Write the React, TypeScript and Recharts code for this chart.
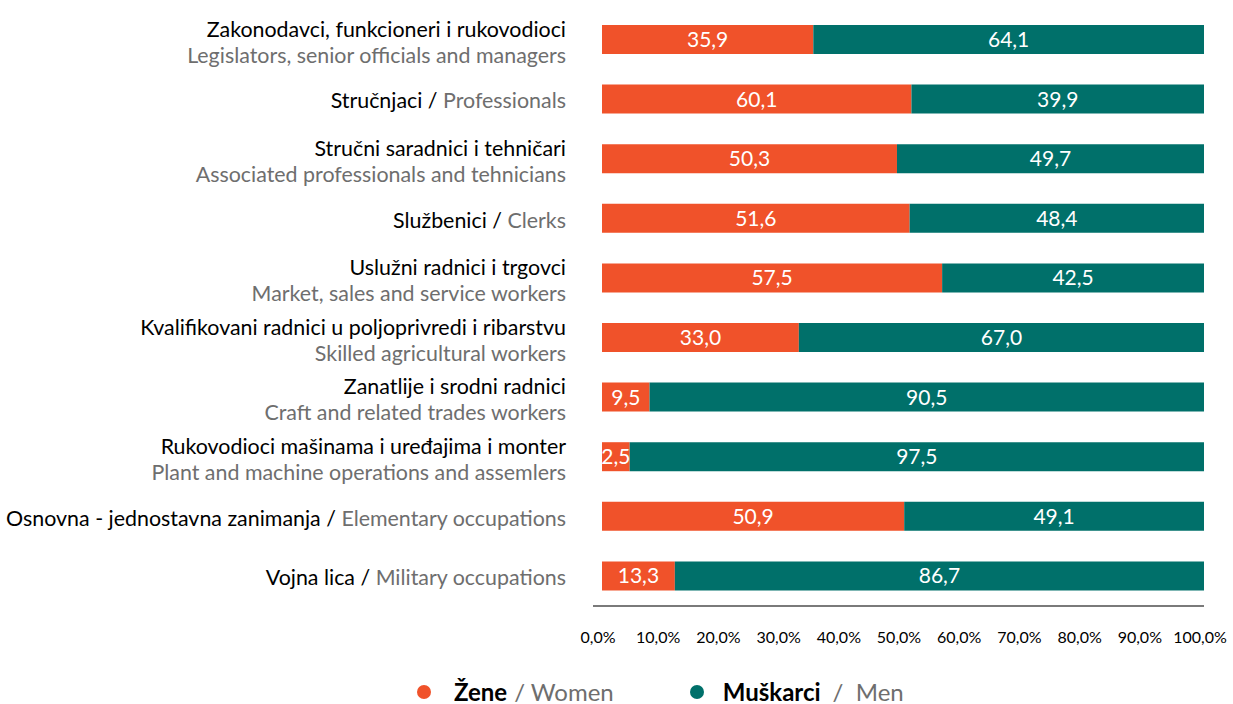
import { Bar, BarChart, LabelList, Legend, XAxis, YAxis } from "recharts";

const FONT = "Lato, 'Noto Sans', sans-serif";
const ORANGE = "#F0522A";
const TEAL = "#00706A";
const GRAY = "#6e6e6e";

// Serbian / English category names; twoLine says whether the English part goes below
const namesSr = [
  "Zakonodavci, funkcioneri i rukovodioci",
  "Stručnjaci",
  "Stručni saradnici i tehničari",
  "Službenici",
  "Uslužni radnici i trgovci",
  "Kvalifikovani radnici u poljoprivredi i ribarstvu",
  "Zanatlije i srodni radnici",
  "Rukovodioci mašinama i uređajima i monter",
  "Osnovna - jednostavna zanimanja",
  "Vojna lica",
];
const namesEn = [
  "Legislators, senior officials and managers",
  "Professionals",
  "Associated professionals and tehnicians",
  "Clerks",
  "Market, sales and service workers",
  "Skilled agricultural workers",
  "Craft and related trades workers",
  "Plant and machine operations and assemlers",
  "Elementary occupations",
  "Military occupations",
];
const twoLine = [true, false, true, false, true, true, true, true, false, false];

// printed values
const womenLabels = [35.9, 60.1, 50.3, 51.6, 57.5, 33.0, 9.5, 2.5, 50.9, 13.3];
const menLabels = [64.1, 39.9, 49.7, 48.4, 42.5, 67.0, 90.5, 97.5, 49.1, 86.7];
// bar lengths as drawn in the picture (they do not always agree with the printed values)
const womenBars = [35.1, 51.4, 49.0, 51.1, 56.5, 32.7, 7.9, 4.6, 50.2, 12.1];
const menBars = [64.9, 48.6, 51.0, 48.9, 43.5, 67.3, 92.1, 95.4, 49.8, 87.9];

const xTicks = [0, 10, 20, 30, 40, 50, 60, 70, 80, 90, 100];

const data = namesSr.map((_, i) => ({
  key: String(i),
  women: womenBars[i],
  men: menBars[i],
  womenLabel: womenLabels[i],
  menLabel: menLabels[i],
}));

const fmt = (v: number) => v.toFixed(1).replace(".", ",");

const CategoryTick = ({ x, y, payload }: { x?: number; y?: number; payload?: { value: string } }) => {
  const i = Number(payload?.value ?? 0);
  const tx = (x ?? 0) - 27;
  const ty = y ?? 0;
  if (twoLine[i]) {
    return (
      <g>
        <text x={tx} y={ty - 11} textAnchor="end" dominantBaseline="central" fontFamily={FONT} fontSize={21.4} fill="#000">
          {namesSr[i]}
        </text>
        <text x={tx} y={ty + 15} textAnchor="end" dominantBaseline="central" fontFamily={FONT} fontSize={21.4} fill={GRAY}>
          {namesEn[i]}
        </text>
      </g>
    );
  }
  return (
    <text x={tx} y={ty + 1} textAnchor="end" dominantBaseline="central" fontFamily={FONT} fontSize={21.4} fill="#000">
      {namesSr[i]} / <tspan fill={GRAY}>{namesEn[i]}</tspan>
    </text>
  );
};

const PercentTick = ({ x, y, payload }: { x?: number; y?: number; payload?: { value: number } }) => (
  <text x={(x ?? 0) - 4} y={(y ?? 0) + 30} textAnchor="middle" dominantBaseline="central" fontFamily={FONT} fontSize={16} fill="#000">
    {fmt(payload?.value ?? 0)}%
  </text>
);

const LegendContent = () => (
  <div
    style={{
      height: 24,
      display: "flex",
      alignItems: "center",
      paddingLeft: 417,
      fontFamily: FONT,
      fontSize: 24,
      lineHeight: 1,
      gap: 76,
    }}
  >
    <div style={{ display: "flex", alignItems: "center" }}>
      <span style={{ width: 14, height: 14, borderRadius: 7, background: ORANGE, marginRight: 23 }} />
      <b style={{ color: "#000" }}>Žene</b>
      <span style={{ color: GRAY, marginLeft: 7 }}>/ Women</span>
    </div>
    <div style={{ display: "flex", alignItems: "center" }}>
      <span style={{ width: 14, height: 14, borderRadius: 7, background: TEAL, marginRight: 19 }} />
      <b style={{ color: "#000" }}>Muškarci</b>
      <span style={{ color: GRAY, marginLeft: 12, whiteSpace: "pre" }}>/  Men</span>
    </div>
  </div>
);

export default function App() {
  return (
    <div style={{ position: "absolute", left: 0, top: 0, background: "#fff" }}>
      <BarChart
        width={1233}
        height={704}
        data={data}
        layout="vertical"
        margin={{ top: 10, right: 29, left: 0, bottom: 0 }}
        barCategoryGap={30}
      >
        <XAxis
          type="number"
          domain={[0, 100]}
          ticks={xTicks}
          interval={0}
          padding={{ left: 9, right: 0 }}
          height={74}
          tickSize={0}
          tickMargin={0}
          tickLine={false}
          axisLine={{ stroke: "#7a7a7a", strokeWidth: 2 }}
          tick={<PercentTick />}
        />
        <YAxis
          type="category"
          dataKey="key"
          width={593}
          axisLine={false}
          tickLine={false}
          tickSize={0}
          tickMargin={0}
          interval={0}
          tick={<CategoryTick />}
        />
        <Legend verticalAlign="bottom" content={<LegendContent />} wrapperStyle={{ left: 0 }} />
        <Bar dataKey="women" stackId="a" fill={ORANGE} barSize={29} isAnimationActive={false}>
          <LabelList dataKey="womenLabel" position="center" formatter={(v: number) => fmt(v)} fill="#fff" fontSize={21} fontFamily={FONT} />
        </Bar>
        <Bar dataKey="men" stackId="a" fill={TEAL} barSize={29} isAnimationActive={false}>
          <LabelList dataKey="menLabel" position="center" formatter={(v: number) => fmt(v)} fill="#fff" fontSize={21} fontFamily={FONT} />
        </Bar>
      </BarChart>
    </div>
  );
}
